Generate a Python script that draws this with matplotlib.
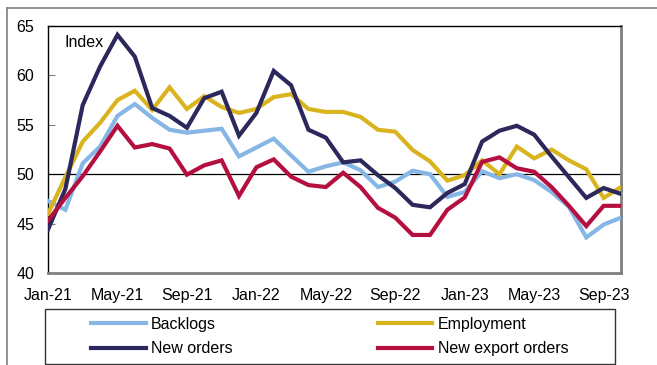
import matplotlib
matplotlib.use("Agg")
import matplotlib.pyplot as plt
from matplotlib.lines import Line2D
from matplotlib.patches import Rectangle

months = ["Jan-21","Feb-21","Mar-21","Apr-21","May-21","Jun-21","Jul-21","Aug-21","Sep-21","Oct-21","Nov-21","Dec-21",
          "Jan-22","Feb-22","Mar-22","Apr-22","May-22","Jun-22","Jul-22","Aug-22","Sep-22","Oct-22","Nov-22","Dec-22",
          "Jan-23","Feb-23","Mar-23","Apr-23","May-23","Jun-23","Jul-23","Aug-23","Sep-23","Oct-23"]

backlogs = [47.3, 46.4, 51.1, 52.8, 55.9, 57.1, 55.7, 54.5, 54.2, 54.4, 54.6, 51.8,
            52.7, 53.6, 51.9, 50.25, 50.8, 51.2, 50.4, 48.7, 49.25, 50.35, 50.0, 47.7,
            48.2, 50.3, 49.6, 50.0, 49.4, 48.2, 46.7, 43.6, 44.9, 45.6]
employment = [46.0, 49.7, 53.3, 55.2, 57.5, 58.45, 56.5, 58.8, 56.6, 57.9, 56.8, 56.2,
              56.6, 57.8, 58.1, 56.6, 56.3, 56.3, 55.8, 54.5, 54.3, 52.45, 51.3, 49.35,
              49.9, 51.4, 50.0, 52.8, 51.6, 52.5, 51.4, 50.5, 47.6, 48.7]
new_orders = [44.4, 48.5, 57.0, 60.9, 64.1, 61.9, 56.7, 55.9, 54.7, 57.7, 58.35, 53.9,
              56.2, 60.45, 59.0, 54.5, 53.7, 51.2, 51.4, 49.9, 48.6, 46.9, 46.65, 48.1,
              49.0, 53.3, 54.4, 54.9, 54.0, 51.8, 49.7, 47.6, 48.6, 48.0]
export_orders = [45.3, 47.6, 49.8, 52.3, 54.9, 52.7, 53.05, 52.6, 49.95, 50.9, 51.4, 47.8,
                 50.7, 51.5, 49.75, 48.9, 48.7, 50.15, 48.7, 46.6, 45.6, 43.85, 43.85, 46.4,
                 47.65, 51.25, 51.7, 50.6, 50.25, 48.7, 46.8, 44.75, 46.8, 46.8]

series = [("Backlogs", backlogs, "#86B6E6"),
          ("Employment", employment, "#DAB41F"),
          ("New orders", new_orders, "#2C285C"),
          ("New export orders", export_orders, "#B50F40")]

yticks = [40, 45, 50, 55, 60, 65]
tick_idx = list(range(0, len(months), 4))

plt.rcParams['font.family'] = ['Liberation Sans', 'DejaVu Sans']
FS = 11.5

W, H = 657, 365
fig = plt.figure(figsize=(W/100, H/100), dpi=100)
ax = fig.add_axes([48/W, 1-273/H, (621-48)/W, (273-26)/H])

x = list(range(len(months)))
handles = {}
for name, vals, col in series:
    ln, = ax.plot(x, vals, color=col, lw=3.0, solid_joinstyle='miter', label=name, zorder=3)
    handles[name] = ln

ax.axhline(50, color='black', lw=0.9, zorder=2)

ax.set_xlim(0, len(months)-1)
ax.set_ylim(40, 65)
ax.set_yticks(yticks)
ax.set_yticklabels([str(v) for v in yticks], fontsize=FS)
ax.set_xticks(tick_idx)
ax.set_xticklabels([months[i] for i in tick_idx], fontsize=FS)
ax.tick_params(axis='x', length=0, pad=11)
ax.tick_params(axis='y', direction='in', length=5, color='#808080', pad=10)

for s in ['left', 'top']:
    ax.spines[s].set_color('black')
    ax.spines[s].set_linewidth(1.0)
for s in ['right', 'bottom']:
    ax.spines[s].set_color('#7f7f7f')
    ax.spines[s].set_linewidth(2.0)

ax.text(0.028, 0.935, "Index", transform=ax.transAxes, fontsize=FS, va='center', ha='left')

# legend box
fig.patches.append(Rectangle((45/W, 1-364/H), 570/W, 55/H, transform=fig.transFigure,
                             fill=False, edgecolor='#333333', lw=1.0))
order = ["Backlogs", "New orders", "Employment", "New export orders"]
leg = fig.legend([handles[n] for n in order], order, loc='center',
                 bbox_to_anchor=(330/W, 1-336.5/H), ncol=2, frameon=False,
                 fontsize=FS, handlelength=3.4, handletextpad=0.35,
                 columnspacing=9.1, labelspacing=0.6)

# outer frame lines
fig.add_artist(Line2D([7/W, 1], [1-8/H, 1-8/H], transform=fig.transFigure, color='#808080', lw=1.2))
fig.add_artist(Line2D([7/W, 7/W], [1-8/H, 0], transform=fig.transFigure, color='#808080', lw=1.2))

fig.savefig("out.png", dpi=100)
